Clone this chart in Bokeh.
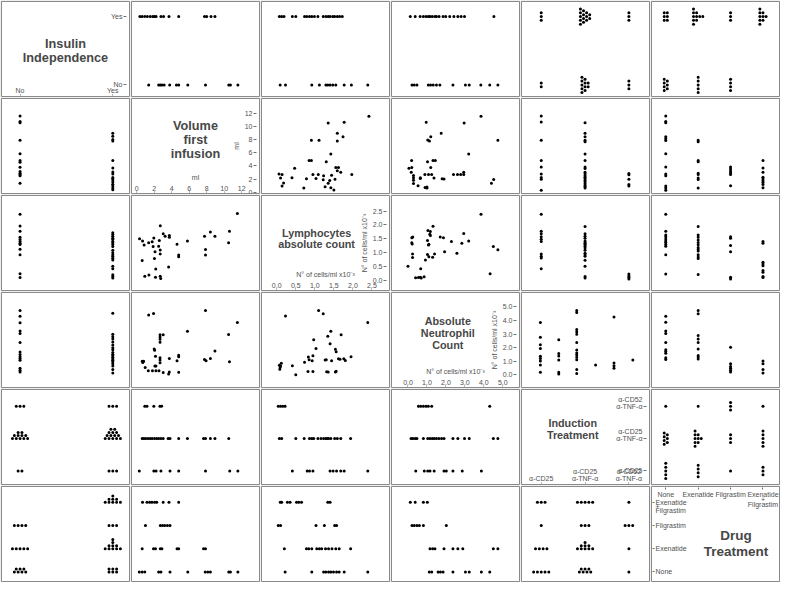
import math
from bokeh.plotting import figure
from bokeh.layouts import gridplot
from bokeh.models import LinearAxis, FixedTicker, Range1d, PrintfTickFormatter
from bokeh.core.properties import value
from bokeh.embed import file_html
from bokeh.resources import INLINE

FONT = "Liberation Sans"

# ---------------- categories / ticks ----------------
VARS = ["ins", "vol", "lym", "neu", "ind", "drug"]
INSULIN_LEVELS = ["No", "Yes"]
INDUCTION_LEVELS = ["α-CD25", "α-CD25\nα-TNF-α", "α-CD52\nα-TNF-α"]
DRUG_LEVELS = ["None", "Exenatide", "Filgrastim", "Exenatide\n+\nFilgrastim"]
LEVEL_POS = {"ins": [0, 1], "ind": [1, 2, 3], "drug": [1, 2, 3, 4]}
VOL_TICKS = [0, 2, 4, 6, 8, 10, 12]
LYM_TICKS = [0.0, 0.5, 1.0, 1.5, 2.0, 2.5]
NEU_TICKS = [0.0, 1.0, 2.0, 3.0, 4.0, 5.0]

TITLES = {
    "ins": ["Insulin", "Independence"],
    "vol": ["Volume", "first", "infusion"],
    "lym": ["Lymphocytes", "absolute count"],
    "neu": ["Absolute", "Neutrophil", "Count"],
    "ind": ["Induction", "Treatment"],
    "drug": ["Drug", "Treatment"],
}
CELLS_LABEL = "N° of cells/ml x10⁻³"

# ---------------- data: continuous values by category ----------------
VOL_INS_NO = [1.37, 2.51, 2.7, 2.88, 3.14, 3.77, 4.54, 4.8, 5.84, 7.86, 10.52, 10.71, 11.56]
VOL_INS_YES = [0.37, 0.63, 0.93, 1.22, 1.55, 1.85, 2.03, 2.22, 2.77, 3.07, 3.69, 4.8, 7.75, 8.0, 8.49, 8.94]
LYM_INS_NO = [0.09, 0.23, 0.92, 1.12, 1.29, 1.34, 1.40, 1.47, 1.55, 1.77, 1.96, 2.39]
LYM_INS_YES = [0.07, 0.13, 0.19, 0.41, 0.5, 0.73, 0.79, 0.86, 0.92, 0.99, 1.08, 1.22, 1.29,
               1.35, 1.4, 1.47, 1.52, 1.59, 1.65, 1.72]
NEU_INS_NO = [0.21, 0.33, 0.47, 1.07, 1.19, 1.33, 1.5, 1.68, 2.37, 3.03, 3.23, 3.84, 4.31, 4.74]
NEU_INS_YES = [0.12, 0.38, 0.64, 0.81, 0.95, 1.07, 1.16, 1.28, 1.42, 1.5, 1.64, 1.85, 1.99,
               2.2, 2.42, 2.63, 2.8, 2.98, 4.53]

VOL_IND_CD25 = [0.3, 1.96, 2.22, 2.77, 3.81, 4.8, 7.86, 10.63, 11.56]
VOL_IND_CD25_TNF = [0.63, 0.82, 1.04, 1.3, 1.55, 1.77, 2.04, 2.29, 2.51, 2.77, 3.03, 3.59,
                    3.81, 4.8, 5.8, 7.64, 7.86, 8.42, 8.94, 10.52]
VOL_IND_CD52_TNF = [0.93, 1.18, 1.96, 2.66, 2.85]
LYM_IND_CD25 = [0.41, 0.8, 0.86, 0.95, 1.4, 1.48, 1.57, 1.68, 1.77, 2.39]
LYM_IND_CD25_TNF = [0.07, 0.13, 0.5, 0.72, 0.86, 0.92, 0.97, 1.08, 1.16, 1.23, 1.29, 1.32,
                    1.36, 1.42, 1.52, 1.59, 1.68, 1.94]
LYM_IND_CD52_TNF = [0.04, 0.1, 0.16, 0.22]
NEU_IND_CD25 = [0.41, 0.86, 1.04, 1.16, 1.38, 1.9, 2.02, 2.37, 2.86, 3.87]
NEU_IND_CD25_TNF = [0.16, 0.26, 0.38, 0.47, 0.81, 1.04, 1.16, 1.28, 1.38, 1.5, 1.63, 1.77,
                    1.9, 2.37, 2.63, 2.98, 3.23, 4.5, 4.74]
NEU_IND_CD52_TNF = [0.55, 0.67, 0.81, 0.95, 1.07, 1.25, 4.31]

# the neutrophil-by-induction panel above the diagonal shows six sub-columns
NEU_IND_UPPER_POS = [0.98, 1.40, 1.81, 2.24, 2.66, 3.09]
NEU_IND_UPPER_VALUES = [
    [3.85, 2.76, 2.21, 1.93, 1.37, 1.2, 1.01, 0.72, 0.19],
    [2.58, 1.57, 1.39, 1.08, 0.19, 0.05],
    [4.74, 4.58, 3.33, 3.16, 2.98, 2.38, 1.83, 1.6, 1.46, 1.29, 1.1, 0.38, 0.1],
    [0.72],
    [4.26, 0.86, 0.67, 0.48],
    [1.08],
]

VOL_DRUG_NONE = [0.3, 0.63, 0.93, 2.51, 2.77, 3.81, 5.84, 7.83, 8.12, 8.42, 10.52, 10.71, 11.56]
VOL_DRUG_EXEN = [0.63, 1.92, 2.15, 2.7, 2.88, 4.61, 4.8, 7.64, 7.86]
VOL_DRUG_FILG = [1.0, 2.7, 2.95, 3.2, 3.51, 3.81]
VOL_DRUG_EF = [0.67, 1.18, 1.48, 1.74, 2.04, 2.29, 3.03, 3.69, 4.8]
LYM_DRUG_NONE = [0.22, 0.92, 1.23, 1.29, 1.36, 1.42, 1.49, 1.57, 1.64, 1.77, 2.39]
LYM_DRUG_EXEN = [0.2, 0.78, 0.84, 0.92, 1.05, 1.12, 1.18, 1.28, 1.36, 1.45, 1.55, 1.64, 1.94]
LYM_DRUG_FILG = [0.04, 0.1, 1.03, 1.25, 1.52, 1.57]
LYM_DRUG_EF = [0.09, 0.13, 0.28, 0.35, 0.52, 0.58, 0.65, 1.34, 1.4]
NEU_DRUG_NONE = [1.12, 1.25, 1.59, 1.71, 1.85, 2.37, 3.03, 3.23, 3.87, 4.31]
NEU_DRUG_EXEN = [1.16, 1.3, 1.42, 1.9, 2.37, 2.63, 2.89, 4.5, 4.74]
NEU_DRUG_FILG = [0.21, 0.33, 0.47, 0.6, 0.81, 2.02]
NEU_DRUG_EF = [0.12, 0.38, 0.81, 1.02]

# ---------------- data: counts for categorical x categorical ----------------
INS_IND_COUNTS = [[2, 11, 3],          # No : CD25, CD25+TNF, CD52+TNF
                  [3, 14, 3]]          # Yes
INS_DRUG_COUNTS = [[7, 5, 4, 0],       # No : None, Exenatide, Filgrastim, Exe+Filg
                   [6, 10, 3, 9]]      # Yes
IND_DRUG_COUNTS = [[5, 4, 1, 3],       # CD25
                   [7, 9, 3, 5],       # CD25 + TNF
                   [1, 1, 3, 1]]       # CD52 + TNF

# ---------------- data: continuous pairs ----------------
VL_VOL = [0.33, 0.67, 0.85, 0.63, 0.93, 1.4, 1.37, 1.77, 1.96, 1.88, 2.1, 2.03, 2.18, 2.15,
          2.51, 2.59, 2.7, 2.69, 2.69, 2.69, 2.75, 3.03, 3.25, 3.65, 3.73, 3.73, 4.61, 4.8,
          4.8, 5.8, 7.75, 7.86, 7.86, 8.42, 8.94, 10.5, 10.6, 11.5]
VL_LYM = [1.5, 1.42, 1.27, 0.71, 0.14, 0.18, 1.35, 1.39, 1.53, 1.22, 1.03, 0.78, 0.4, 0.1,
          1.23, 1.44, 1.97, 1.09, 0.95, 0.14, 0.06, 1.68, 1.59, 0.47, 1.62, 1.55, 1.3, 0.91,
          0.85, 1.42, 1.59, 1.11, 0.91, 1.74, 1.59, 1.35, 1.77, 2.42]
VN_VOL = [1.37, 1.93, 2.0, 2.05, 2.67, 2.67, 2.67, 2.67, 3.03, 2.15, 2.67, 2.67, 2.67, 0.63,
          0.8, 0.7, 0.97, 1.33, 1.8, 2.2, 2.55, 2.08, 2.2, 3.03, 3.65, 3.73, 3.73, 4.61, 4.8,
          4.8, 4.8, 5.8, 7.75, 7.93, 7.86, 8.42, 8.94, 10.5, 10.6, 11.5]
VN_NEU = [4.4, 4.52, 1.9, 1.8, 2.94, 2.78, 2.61, 2.4, 2.94, 1.37, 1.25, 1.08, 0.89, 1.0,
          1.0, 0.9, 0.53, 0.29, 0.29, 0.29, 0.29, 0.65, 0.65, 0.17, 0.05, 0.2, 1.2, 1.03, 1.44,
          1.32, 0.19, 3.2, 1.13, 1.04, 4.74, 1.2, 1.75, 2.96, 0.96, 3.85]
LN_LYM = [0.23, 1.1, 1.22, 2.39, 1.42, 1.34, 0.97, 1.69, 1.4, 1.03, 1.54, 1.56, 1.95, 0.83,
          0.85, 0.95, 0.73, 0.93, 1.27, 1.3, 1.44, 1.62, 1.66, 1.76, 1.8, 0.41, 0.12, 0.07,
          0.09, 0.1, 0.08, 0.5, 0.82, 0.95, 1.31, 1.35, 1.54, 1.56]
LN_NEU = [4.33, 4.74, 4.5, 3.85, 3.2, 2.84, 2.58, 2.94, 2.29, 1.93, 1.87, 1.7, 1.32, 1.3,
          1.1, 1.4, 0.92, 1.03, 1.08, 1.1, 1.03, 1.18, 1.15, 1.18, 1.05, 0.67, 0.85, 0.7,
          0.55, 0.65, 0.4, 0.0, 0.24, 0.24, 0.22, 0.2, 0.2, 0.25]

CONT_BY_CAT = {
    ("ins", "vol"): [VOL_INS_NO, VOL_INS_YES],
    ("ins", "lym"): [LYM_INS_NO, LYM_INS_YES],
    ("ins", "neu"): [NEU_INS_NO, NEU_INS_YES],
    ("ind", "vol"): [VOL_IND_CD25, VOL_IND_CD25_TNF, VOL_IND_CD52_TNF],
    ("ind", "lym"): [LYM_IND_CD25, LYM_IND_CD25_TNF, LYM_IND_CD52_TNF],
    ("ind", "neu"): [NEU_IND_CD25, NEU_IND_CD25_TNF, NEU_IND_CD52_TNF],
    ("drug", "vol"): [VOL_DRUG_NONE, VOL_DRUG_EXEN, VOL_DRUG_FILG, VOL_DRUG_EF],
    ("drug", "lym"): [LYM_DRUG_NONE, LYM_DRUG_EXEN, LYM_DRUG_FILG, LYM_DRUG_EF],
    ("drug", "neu"): [NEU_DRUG_NONE, NEU_DRUG_EXEN, NEU_DRUG_FILG, NEU_DRUG_EF],
}
COUNTS = {("ins", "ind"): INS_IND_COUNTS, ("ins", "drug"): INS_DRUG_COUNTS,
          ("ind", "drug"): IND_DRUG_COUNTS}
PAIRS = {("vol", "lym"): (VL_VOL, VL_LYM), ("vol", "neu"): (VN_VOL, VN_NEU),
         ("lym", "neu"): (LN_LYM, LN_NEU)}
CAT = {"ins", "ind", "drug"}

# ---------------- layout ----------------
W, H = 130, 97
FW, FH = W - 2, H - 2
XR = {"ins": (-0.2, 1.18), "vol": (-0.59, 14.03), "lym": (-0.40, 2.96),
      "neu": (-0.87, 5.88), "ind": (0.55, 3.47), "drug": (0.56, 4.51)}
YR = {"ins": (-0.17, 1.22), "vol": (-0.19, 14.2), "lym": (-0.38, 3.07),
      "neu": (-0.94, 6.06), "ind": (0.58, 3.52), "drug": (0.59, 4.68)}
DX, DY = 3.8, 3.1   # pile spacing in px
TITLE_POS = {"ins": (0.5, 0.52, 12.7, 14), "vol": (0.5, 0.44, 12.7, 14),
             "lym": (0.43, 0.45, 10.8, 11.5), "neu": (0.44, 0.43, 10.8, 12),
             "ind": (0.40, 0.42, 10.8, 12), "drug": (0.66, 0.60, 13.5, 15.5)}


def row_widths(n):
    if n <= 0:
        return []
    if n <= 5:
        return [n]
    if n <= 8:
        a = (n + 1) // 2
        return [a, n - a]
    step = 2 if n <= 10 else 1
    out, cap = [], 5
    while n > 0:
        t = min(cap, n)
        out.append(t)
        n -= t
        cap = max(cap - step, 1)
    return out


def panel_points(xv, yv, upper):
    if upper and (xv, yv) == ("ind", "neu"):
        xs, ys = [], []
        for pos, vals in zip(NEU_IND_UPPER_POS, NEU_IND_UPPER_VALUES):
            xs += [pos] * len(vals)
            ys += list(vals)
        return xs, ys
    if xv not in CAT and yv not in CAT:
        if (xv, yv) in PAIRS:
            xs, ys = PAIRS[(xv, yv)]
        else:
            ys, xs = PAIRS[(yv, xv)]
        return list(xs), list(ys)
    if xv in CAT and yv not in CAT:
        xs, ys = [], []
        for pos, vals in zip(LEVEL_POS[xv], CONT_BY_CAT[(xv, yv)]):
            xs += [pos] * len(vals)
            ys += list(vals)
        return xs, ys
    if yv in CAT and xv not in CAT:
        xs, ys = [], []
        for pos, vals in zip(LEVEL_POS[yv], CONT_BY_CAT[(yv, xv)]):
            ys += [pos] * len(vals)
            xs += list(vals)
        return xs, ys
    if (xv, yv) in COUNTS:
        M = COUNTS[(xv, yv)]
    else:
        T = COUNTS[(yv, xv)]
        M = [list(r) for r in zip(*T)]
    ux = (XR[xv][1] - XR[xv][0]) / FW
    uy = (YR[yv][1] - YR[yv][0]) / FH
    xs, ys = [], []
    for i, xpos in enumerate(LEVEL_POS[xv]):
        for j, ypos in enumerate(LEVEL_POS[yv]):
            widths = row_widths(M[i][j])
            K = len(widths)
            for k, w in enumerate(widths):
                for m in range(w):
                    a = m - (w - 1) / 2
                    if upper:
                        xs.append(xpos + (k - (K - 1) / 2) * DY * ux)
                        ys.append(ypos + a * DX * uy)
                    else:
                        xs.append(xpos + a * DX * ux)
                        ys.append(ypos + k * DY * uy)
    return xs, ys


def style_axis(ax, ticks, overrides=None, fmt=None, label=None, tick_out=3, lh=1.0):
    ax.ticker = FixedTicker(ticks=ticks)
    if overrides:
        ax.major_label_overrides = overrides
    if fmt:
        ax.formatter = PrintfTickFormatter(format=fmt)
    ax.axis_line_color = None
    ax.major_tick_line_color = "#707070"
    ax.major_tick_out = tick_out
    ax.major_tick_in = 0
    ax.minor_tick_line_color = None
    ax.major_label_text_font = FONT
    ax.major_label_text_font_size = "7px"
    ax.major_label_text_color = "#505050"
    ax.major_label_text_line_height = lh
    ax.major_label_standoff = 1
    if label:
        ax.axis_label = label
        ax.axis_label_text_font = FONT
        ax.axis_label_text_font_size = "7px"
        ax.axis_label_text_color = "#505050"
        ax.axis_label_text_font_style = "normal"
        ax.axis_label_standoff = 2


def overrides(v, side):
    if v == "ins":
        return dict(zip(LEVEL_POS["ins"], INSULIN_LEVELS))
    if v == "ind":
        labs = INDUCTION_LEVELS if side == "x" else [
            t + "\n" if "\n" in t else t for t in INDUCTION_LEVELS]
        return dict(zip(LEVEL_POS["ind"], labs))
    if v == "drug":
        labs = DRUG_LEVELS if side == "x" else [
            "\n\n" + t if "\n" in t else t for t in DRUG_LEVELS]
        return dict(zip(LEVEL_POS["drug"], labs))
    return None


AXIS_SPEC = {
    "ins": (LEVEL_POS["ins"], None, None),
    "vol": (VOL_TICKS, None, "ml"),
    "lym": (LYM_TICKS, "%.1f", CELLS_LABEL),
    "neu": (NEU_TICKS, "%.1f", CELLS_LABEL),
    "ind": (LEVEL_POS["ind"], None, None),
    "drug": (LEVEL_POS["drug"], None, None),
}


def make_panel(r, c):
    yv, xv = VARS[r], VARS[c]
    p = figure(width=W, height=H, x_range=Range1d(*XR[xv]), y_range=Range1d(*YR[yv]),
               toolbar_location=None, output_backend="svg", title=None,
               x_axis_location=None, y_axis_location=None, min_border=1,
               tools="")
    p.outline_line_color = "#8a8a8a"
    p.outline_line_width = 1
    p.border_fill_color = "#c4c4c4"
    p.background_fill_color = "white"
    for g in list(p.xgrid) + list(p.ygrid):
        g.visible = False
    if r != c:
        xs, ys = panel_points(xv, yv, upper=(r < c))
        p.scatter(xs, ys, size=3.0, color="black", line_color=None)
        return p
    v = xv
    ux = (XR[v][1] - XR[v][0]) / FW
    uy = (YR[v][1] - YR[v][0]) / FH
    ticks, fmt, lab = AXIS_SPEC[v]
    if v == "drug":
        xa = LinearAxis(fixed_location=YR[v][1] - 1 * uy)
        style_axis(xa, ticks, overrides(v, "x"), fmt, lab, tick_out=2, lh=0.72)
        p.add_layout(xa, "below")
        ya = LinearAxis(fixed_location=XR[v][0] + 1 * ux)
        style_axis(ya, ticks, overrides(v, "y"), fmt, lab, tick_out=2, lh=0.62)
        p.add_layout(ya, "right")
    else:
        xa = LinearAxis(fixed_location=YR[v][0] + 1 * uy)
        style_axis(xa, ticks, overrides(v, "x"), fmt, lab, tick_out=1)
        p.add_layout(xa, "above")
        ya = LinearAxis(fixed_location=XR[v][1] - 3 * ux)
        style_axis(ya, ticks, overrides(v, "y"), fmt, lab, tick_out=3)
        p.add_layout(ya, "left")
    fx, fy, fs, lh = TITLE_POS[v]
    lines = TITLES[v]
    n = len(lines)
    cx = XR[v][0] + fx * (XR[v][1] - XR[v][0])
    cy = YR[v][1] - fy * (YR[v][1] - YR[v][0])
    offs = [(i - (n - 1) / 2) * lh for i in range(n)]
    p.text(x=[cx] * n, y=[cy] * n, text=lines, y_offset=offs,
           text_font=value(FONT), text_font_style="bold", text_font_size=f"{fs}px",
           text_color="#474747", text_align="center", text_baseline="middle")
    return p


rows = [[make_panel(r, c) for c in range(6)] for r in range(6)]
grid = gridplot(rows, toolbar_location=None)
open("out.html", "w").write(file_html(grid, INLINE))
